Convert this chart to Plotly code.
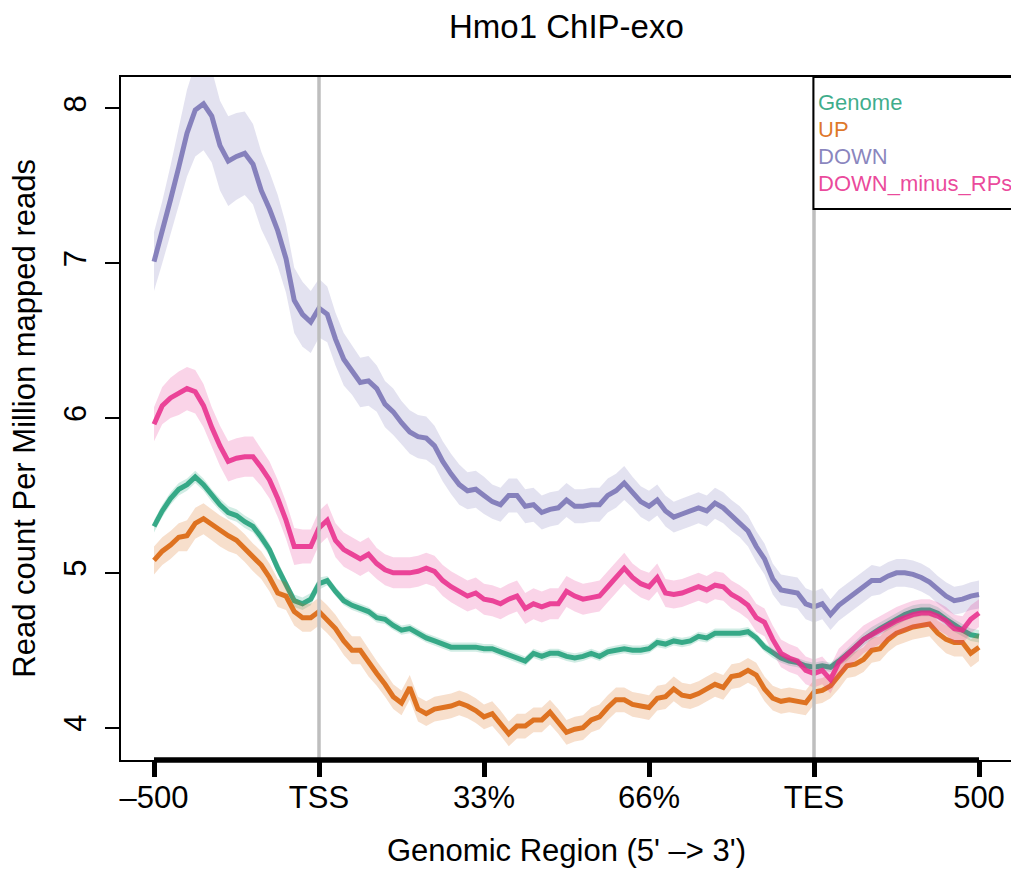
import plotly.graph_objects as go

# ---------------- data ----------------
bins = list(range(101))  # 100 bins: -500 .. TSS .. TES .. 500
tick_vals = [0, 20, 40, 60, 80, 100]
tick_text = ["\u2013500", "TSS", "33%", "66%", "TES", "500"]
y_ticks = [4, 5, 6, 7, 8]

genome = [5.30, 5.40, 5.48, 5.54, 5.57, 5.62, 5.57, 5.50, 5.44, 5.39, 5.37, 5.33, 5.30, 5.23, 5.15, 5.03, 4.92, 4.82, 4.80, 4.83, 4.93,
          4.95, 4.88, 4.82, 4.79, 4.77, 4.75, 4.71, 4.70, 4.66, 4.63, 4.64, 4.61, 4.58, 4.56, 4.54, 4.52, 4.52, 4.52, 4.52, 4.51,
          4.51, 4.49, 4.47, 4.45, 4.43, 4.48, 4.46, 4.48, 4.48, 4.46, 4.45, 4.46, 4.48, 4.46, 4.49, 4.50, 4.51, 4.50, 4.50, 4.51,
          4.55, 4.54, 4.56, 4.55, 4.56, 4.59, 4.58, 4.61, 4.61, 4.61, 4.61, 4.62, 4.58, 4.52, 4.48, 4.45, 4.43, 4.42, 4.40, 4.39,
          4.40, 4.39, 4.43, 4.47, 4.52, 4.57, 4.61, 4.64, 4.67, 4.70, 4.73, 4.75, 4.76, 4.76, 4.74, 4.70, 4.66, 4.63, 4.60, 4.59]
genome_se = [0.04, 0.04, 0.04, 0.04, 0.04, 0.04, 0.04, 0.04, 0.04, 0.04, 0.04, 0.04, 0.04, 0.04, 0.04, 0.04, 0.04, 0.04, 0.04, 0.04, 0.04,
             0.03, 0.03, 0.03, 0.03, 0.03, 0.03, 0.03, 0.03, 0.03, 0.03, 0.03, 0.03, 0.03, 0.03, 0.03, 0.03, 0.03, 0.03, 0.03, 0.03,
             0.03, 0.03, 0.03, 0.03, 0.03, 0.03, 0.03, 0.03, 0.03, 0.03, 0.03, 0.03, 0.03, 0.03, 0.03, 0.03, 0.03, 0.03, 0.03, 0.03,
             0.03, 0.03, 0.03, 0.03, 0.03, 0.03, 0.03, 0.03, 0.03, 0.03, 0.03, 0.03, 0.03, 0.03, 0.03, 0.03, 0.03, 0.03, 0.03, 0.03,
             0.03, 0.03, 0.03, 0.04, 0.04, 0.04, 0.04, 0.04, 0.04, 0.04, 0.04, 0.04, 0.04, 0.04, 0.04, 0.04, 0.04, 0.04, 0.04, 0.04]

up = [5.08, 5.14, 5.18, 5.23, 5.24, 5.32, 5.35, 5.31, 5.27, 5.24, 5.21, 5.16, 5.10, 5.05, 4.97, 4.87, 4.85, 4.75, 4.71, 4.71, 4.75,
      4.70, 4.64, 4.56, 4.50, 4.50, 4.42, 4.35, 4.28, 4.20, 4.16, 4.26, 4.12, 4.09, 4.12, 4.13, 4.14, 4.16, 4.14, 4.11, 4.07,
      4.09, 4.03, 3.96, 4.01, 4.01, 4.05, 4.05, 4.10, 4.04, 3.97, 3.99, 4.00, 4.05, 4.07, 4.13, 4.18, 4.18, 4.15, 4.14, 4.13,
      4.19, 4.20, 4.25, 4.21, 4.20, 4.22, 4.25, 4.28, 4.26, 4.33, 4.34, 4.37, 4.34, 4.25, 4.19, 4.17, 4.18, 4.17, 4.16, 4.23,
      4.24, 4.27, 4.33, 4.40, 4.41, 4.44, 4.50, 4.51, 4.57, 4.61, 4.63, 4.65, 4.66, 4.67, 4.61, 4.57, 4.55, 4.55, 4.48, 4.52]
up_se = [0.09, 0.09, 0.09, 0.09, 0.10, 0.10, 0.10, 0.10, 0.10, 0.10, 0.09, 0.09, 0.09, 0.09, 0.09, 0.09, 0.09, 0.09, 0.09, 0.09, 0.09,
         0.09, 0.09, 0.09, 0.09, 0.09, 0.09, 0.08, 0.08, 0.08, 0.08, 0.08, 0.08, 0.08, 0.08, 0.08, 0.08, 0.08, 0.08, 0.08, 0.08,
         0.08, 0.08, 0.08, 0.08, 0.08, 0.08, 0.08, 0.08, 0.08, 0.08, 0.08, 0.08, 0.08, 0.08, 0.08, 0.08, 0.08, 0.08, 0.08, 0.08,
         0.08, 0.08, 0.08, 0.08, 0.08, 0.08, 0.08, 0.08, 0.08, 0.08, 0.08, 0.08, 0.08, 0.08, 0.08, 0.08, 0.08, 0.08, 0.08, 0.08,
         0.08, 0.08, 0.08, 0.08, 0.08, 0.08, 0.08, 0.08, 0.08, 0.08, 0.08, 0.08, 0.08, 0.08, 0.08, 0.09, 0.09, 0.09, 0.09, 0.09]

down = [7.01, 7.20, 7.41, 7.62, 7.84, 7.99, 8.03, 7.95, 7.76, 7.66, 7.69, 7.71, 7.64, 7.47, 7.35, 7.21, 7.03, 6.76, 6.67, 6.62, 6.71,
        6.67, 6.51, 6.38, 6.31, 6.23, 6.24, 6.19, 6.09, 6.04, 5.97, 5.91, 5.88, 5.87, 5.82, 5.72, 5.64, 5.57, 5.53, 5.54, 5.50,
        5.46, 5.44, 5.50, 5.50, 5.43, 5.44, 5.39, 5.41, 5.42, 5.47, 5.43, 5.43, 5.44, 5.44, 5.50, 5.53, 5.58, 5.52, 5.46, 5.43,
        5.47, 5.40, 5.36, 5.38, 5.40, 5.42, 5.40, 5.45, 5.42, 5.37, 5.33, 5.27, 5.17, 5.09, 4.96, 4.89, 4.88, 4.87, 4.80, 4.78,
        4.80, 4.73, 4.79, 4.83, 4.87, 4.91, 4.95, 4.95, 4.98, 5.00, 5.00, 4.99, 4.97, 4.94, 4.89, 4.85, 4.82, 4.83, 4.85, 4.86]
down_se = [0.19, 0.20, 0.22, 0.25, 0.28, 0.30, 0.30, 0.30, 0.29, 0.29, 0.28, 0.27, 0.26, 0.25, 0.24, 0.23, 0.22, 0.21, 0.21, 0.20, 0.19,
           0.18, 0.17, 0.17, 0.16, 0.16, 0.16, 0.15, 0.15, 0.15, 0.14, 0.14, 0.14, 0.14, 0.13, 0.13, 0.13, 0.13, 0.12, 0.12, 0.12,
           0.11, 0.11, 0.11, 0.11, 0.11, 0.11, 0.11, 0.11, 0.11, 0.11, 0.11, 0.11, 0.11, 0.11, 0.11, 0.11, 0.11, 0.10, 0.10, 0.10,
           0.10, 0.10, 0.10, 0.10, 0.10, 0.10, 0.10, 0.10, 0.10, 0.10, 0.10, 0.10, 0.10, 0.10, 0.10, 0.10, 0.10, 0.10, 0.10, 0.10,
           0.10, 0.10, 0.10, 0.10, 0.10, 0.10, 0.10, 0.09, 0.09, 0.09, 0.09, 0.09, 0.09, 0.09, 0.09, 0.09, 0.09, 0.09, 0.09, 0.09]

down_minus_rps = [5.96, 6.08, 6.13, 6.16, 6.19, 6.17, 6.08, 5.94, 5.82, 5.72, 5.74, 5.75, 5.75, 5.68, 5.60, 5.48, 5.34, 5.17, 5.17, 5.17, 5.29,
                  5.34, 5.21, 5.15, 5.12, 5.09, 5.12, 5.06, 5.02, 5.00, 5.00, 5.00, 5.01, 5.03, 5.01, 4.95, 4.91, 4.88, 4.85, 4.87, 4.83,
                  4.82, 4.80, 4.83, 4.85, 4.77, 4.80, 4.78, 4.80, 4.80, 4.88, 4.85, 4.83, 4.84, 4.85, 4.91, 4.97, 5.03, 4.97, 4.93, 4.91,
                  4.97, 4.87, 4.86, 4.87, 4.89, 4.91, 4.89, 4.92, 4.91, 4.86, 4.83, 4.79, 4.71, 4.68, 4.57, 4.48, 4.45, 4.43, 4.37, 4.35,
                  4.37, 4.31, 4.42, 4.47, 4.52, 4.57, 4.60, 4.63, 4.66, 4.69, 4.71, 4.73, 4.74, 4.74, 4.72, 4.69, 4.64, 4.63, 4.70, 4.74]
down_minus_rps_se = [0.11, 0.12, 0.13, 0.14, 0.14, 0.14, 0.14, 0.13, 0.13, 0.13, 0.13, 0.13, 0.13, 0.12, 0.12, 0.12, 0.12, 0.12, 0.11, 0.11, 0.11,
                     0.11, 0.11, 0.11, 0.11, 0.11, 0.11, 0.10, 0.10, 0.10, 0.10, 0.10, 0.10, 0.10, 0.10, 0.10, 0.10, 0.10, 0.10, 0.10, 0.10,
                     0.10, 0.10, 0.10, 0.10, 0.10, 0.10, 0.10, 0.10, 0.10, 0.10, 0.10, 0.10, 0.10, 0.10, 0.10, 0.10, 0.10, 0.09, 0.09, 0.09,
                     0.09, 0.09, 0.09, 0.09, 0.09, 0.09, 0.09, 0.09, 0.09, 0.09, 0.09, 0.09, 0.09, 0.09, 0.09, 0.09, 0.09, 0.09, 0.09, 0.09,
                     0.09, 0.09, 0.09, 0.09, 0.09, 0.09, 0.09, 0.09, 0.09, 0.09, 0.09, 0.09, 0.09, 0.09, 0.09, 0.09, 0.09, 0.09, 0.09, 0.09]

series_names = ["Genome", "UP", "DOWN", "DOWN_minus_RPs"]
series_values = [genome, up, down, down_minus_rps]
series_se = [genome_se, up_se, down_se, down_minus_rps_se]
series_rgb = [(27, 158, 119), (217, 95, 2), (117, 112, 179), (231, 41, 138)]

# ---------------- figure ----------------
FONT = "Liberation Sans, Helvetica, Arial, sans-serif"
fig = go.Figure()

for name, vals, se, rgb in zip(series_names, series_values, series_se, series_rgb):
    upper = [v + s for v, s in zip(vals, se)]
    lower = [v - s for v, s in zip(vals, se)]
    fig.add_trace(go.Scatter(
        x=bins + bins[::-1], y=upper + lower[::-1],
        fill="toself", fillcolor="rgba(%d,%d,%d,0.2)" % rgb,
        line=dict(width=0), mode="lines", hoverinfo="skip", showlegend=False))
    fig.add_trace(go.Scatter(
        x=bins, y=vals, mode="lines", name=name, showlegend=False,
        line=dict(color="rgba(%d,%d,%d,0.85)" % rgb, width=5)))

# page body adds an 8px offset; geometry below is in page pixels
OFF = 8
W, H = 1019 - OFF, 871 - OFF
L, T = 121 - OFF, 77 - OFF
R = W - (1014 - OFF)
B = H - (760 - OFF)
pw, ph = W - L - R, H - T - B

def px_x(px):
    return (px - OFF - L) / pw

def px_y(py):
    return (H - B - (py - OFF)) / ph

shapes = []
for xv in (20, 80):
    shapes.append(dict(type="line", xref="x", yref="paper", x0=xv, x1=xv, y0=0, y1=1,
                       line=dict(color="#bebebe", width=3.5), layer="above"))
shapes.append(dict(type="line", xref="x", yref="paper", x0=0, x1=100, y0=0, y1=0,
                   line=dict(color="black", width=5.5), layer="above"))
# legend box
shapes.append(dict(type="rect", xref="paper", yref="paper",
                   x0=px_x(815), x1=1.0, y0=px_y(209), y1=1.0,
                   line=dict(color="black", width=2), fillcolor="white", layer="above"))

annotations = []
for i, (name, rgb) in enumerate(zip(series_names, series_rgb)):
    annotations.append(dict(text=name, xref="paper", yref="paper",
                            x=px_x(818), y=px_y(103 + 26.7 * i), xanchor="left", yanchor="middle",
                            showarrow=False, font=dict(family=FONT, size=22, color="rgba(%d,%d,%d,0.85)" % rgb)))
annotations.append(dict(text="Hmo1 ChIP-exo", xref="paper", yref="paper", x=0.5, y=px_y(27),
                        xanchor="center", yanchor="middle", showarrow=False,
                        font=dict(family=FONT, size=33, color="black")))
annotations.append(dict(text="Genomic Region (5' \u2013> 3')", xref="paper", yref="paper", x=0.5, y=px_y(850),
                        xanchor="center", yanchor="middle", showarrow=False,
                        font=dict(family=FONT, size=31, color="black")))
annotations.append(dict(text="Read count Per Million mapped reads", xref="paper", yref="paper",
                        x=px_x(24), y=0.5, xanchor="center", yanchor="middle", textangle=-90,
                        showarrow=False, font=dict(family=FONT, size=31, color="black")))

fig.update_layout(
    width=W, height=H,
    margin=dict(l=L, r=R, t=T, b=B),
    paper_bgcolor="white", plot_bgcolor="white",
    showlegend=False,
    shapes=shapes, annotations=annotations,
    font=dict(family=FONT, color="black"),
)
fig.update_xaxes(range=[-4, 104], tickvals=tick_vals, ticktext=tick_text,
                 showgrid=False, zeroline=False, showline=True, mirror=True,
                 linecolor="black", linewidth=2, ticks="outside", ticklen=15, tickwidth=5,
                 tickcolor="black", ticklabelstandoff=-6,
                 tickfont=dict(family=FONT, size=31, color="black"))
fig.update_yaxes(range=[3.791, 8.203], tickvals=y_ticks, ticktext=[str(v) for v in y_ticks],
                 showgrid=False, zeroline=False, showline=True, mirror=True,
                 linecolor="black", linewidth=2, ticks="outside", ticklen=14, tickwidth=2,
                 tickcolor="black", tickangle=-90, ticklabelstandoff=7,
                 tickfont=dict(family=FONT, size=31, color="black"))

fig.write_html("out.html")
